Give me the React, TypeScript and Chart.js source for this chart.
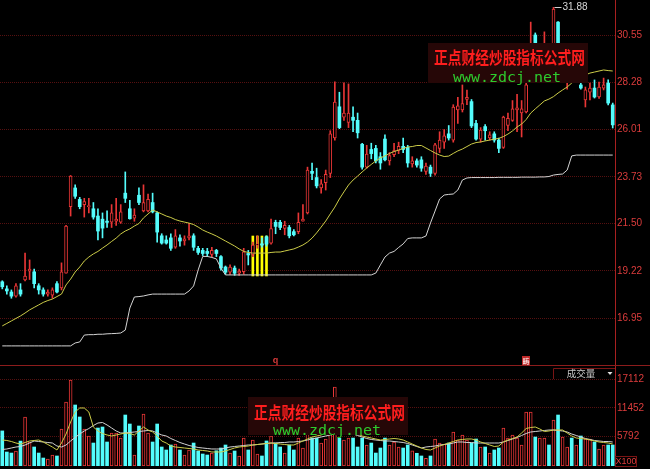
import React, { useEffect, useRef } from 'react';
import { Chart, registerables } from 'chart.js';

Chart.register(...registerables);

// ---------------- data ----------------
const openP = [
  18.69, 18.35, 18.2, 18.0, 18.3, 18.78, 19.2, 19.17, 18.5, 18.3,
  18.1, 18.05, 18.6, 18.4, 19.1, 22.3, 23.2, 22.65, 22.4, 22.3,
  22.2, 21.85, 21.7, 21.6, 21.55, 21.6, 21.55, 22.95, 22.2, 21.75,
  22.85, 22.1, 22.1, 22.5, 22.0, 20.9, 20.7, 20.8, 20.35, 20.8,
  20.65, 20.8, 20.9, 20.3, 20.2, 20.15, 20.0, 20.2, 19.9, 19.4,
  19.15, 19.35, 19.1, 19.18, 20.05, 20.0, 20.45, 20.5, 20.85, 20.55,
  21.55, 21.55, 21.25, 21.3, 21.1, 21.1, 21.6, 22.0, 24.0, 23.7,
  23.2, 23.45, 23.9, 25.6, 27.1, 26.6, 26.35, 26.6, 26.45, 25.3,
  24.2, 25.05, 25.1, 24.7, 25.55, 24.5, 24.8, 25.0, 25.2, 25.15,
  24.35, 24.5, 24.55, 24.0, 24.2, 23.9, 25.1, 25.4, 25.8, 25.5,
  26.95, 26.95, 27.45, 27.35, 26.3, 25.55, 26.15, 25.6, 25.8, 25.5,
  25.15, 26.2, 26.45, 26.95, 26.8, 26.85, 28.9, 30.55, 29.6, 29.5,
  29.9, 29.4, 31.17, 29.2, 28.35, 28.8, 28.5, 28.15, 27.43, 27.8,
  28.0, 27.57, 28.0, 28.24, 27.19,
];
const highP = [
  18.74, 18.5, 18.3, 18.6, 18.6, 20.07, 19.74, 19.3, 18.6, 18.4,
  18.3, 18.4, 18.7, 19.6, 21.4, 23.8, 23.35, 22.75, 22.7, 22.7,
  22.5, 22.2, 22.0, 22.1, 22.4, 22.7, 22.4, 23.97, 22.6, 22.2,
  23.2, 23.35, 22.9, 22.95, 22.05, 21.0, 20.9, 21.0, 21.2, 20.95,
  20.9, 21.5, 21.0, 20.4, 20.3, 20.3, 20.35, 20.25, 19.95, 19.45,
  19.5, 19.45, 19.3, 20.3, 20.2, 20.6, 20.9, 20.8, 20.9, 21.7,
  21.65, 21.65, 21.6, 21.4, 21.2, 22.0, 22.4, 24.2, 24.4, 24.15,
  23.6, 24.06, 25.95, 28.3, 27.8, 28.25, 28.2, 27.1, 26.8, 25.35,
  25.25, 25.35, 25.25, 24.9, 25.75, 24.9, 25.35, 25.4, 25.6, 25.25,
  24.7, 24.6, 24.7, 24.4, 24.3, 25.35, 25.9, 26.0, 26.2, 27.2,
  27.55, 28.15, 27.9, 27.45, 26.45, 26.1, 26.25, 25.9, 25.9, 25.6,
  26.65, 26.8, 27.4, 27.7, 27.4, 28.4, 31.17, 30.65, 30.1, 30.7,
  30.1, 31.88, 31.2, 29.9, 29.3, 29.0, 28.9, 28.3, 28.05, 28.24,
  28.39, 28.29, 28.48, 28.39, 27.28,
];
const lowP = [
  18.35, 18.1, 17.9, 17.95, 18.0, 18.73, 18.8, 18.4, 18.1, 18.0,
  18.0, 17.9, 18.15, 18.3, 19.1, 21.85, 22.7, 22.2, 21.8, 22.0,
  21.7, 20.7, 20.8, 21.3, 21.3, 21.4, 21.5, 22.5, 21.7, 21.6,
  22.4, 22.05, 22.05, 22.0, 20.6, 20.5, 20.5, 20.2, 20.3, 20.4,
  20.45, 20.7, 20.2, 20.0, 19.95, 19.9, 19.9, 19.9, 19.25, 19.05,
  19.05, 19.0, 19.0, 19.05, 19.5, 19.9, 20.3, 20.35, 20.4, 20.5,
  21.0, 21.2, 20.95, 20.8, 20.9, 21.0, 21.6, 21.95, 23.6, 23.2,
  22.95, 23.1, 23.7, 25.5, 26.05, 26.45, 26.1, 25.9, 25.6, 24.1,
  24.15, 24.6, 24.4, 24.1, 24.5, 24.3, 24.7, 24.85, 24.9, 24.2,
  24.2, 24.2, 24.0, 23.85, 23.75, 23.82, 24.9, 25.1, 25.5, 25.4,
  26.3, 26.85, 27.2, 26.1, 25.5, 25.4, 25.5, 25.5, 25.4, 24.9,
  25.1, 25.95, 26.4, 25.9, 25.65, 26.8, 28.7, 29.3, 29.3, 29.2,
  29.2, 29.2, 29.3, 28.8, 27.95, 28.35, 28.35, 27.95, 27.09, 27.43,
  27.52, 27.5, 27.91, 27.19, 26.08,
];
const closeP = [
  18.45, 18.25, 18.0, 18.5, 18.1, 18.97, 19.3, 18.6, 18.3, 18.1,
  18.2, 18.3, 18.2, 19.17, 21.37, 23.77, 22.8, 22.3, 22.55, 22.35,
  21.8, 21.13, 21.27, 21.55, 22.0, 21.7, 22.05, 22.7, 21.72, 21.9,
  22.5, 22.5, 22.65, 22.05, 21.08, 20.55, 20.55, 20.3, 20.9, 20.65,
  20.75, 20.9, 20.35, 20.1, 20.05, 20.05, 20.2, 20.05, 19.35, 19.15,
  19.4, 19.1, 19.2, 20.13, 19.98, 20.45, 20.5, 20.47, 20.5, 21.25,
  21.35, 21.3, 21.4, 20.9, 20.95, 21.55, 21.7, 24.06, 23.9, 23.3,
  23.4, 23.85, 25.8, 27.33, 26.1, 26.8, 26.8, 26.45, 25.85, 24.2,
  24.83, 24.85, 24.5, 24.4, 24.55, 24.75, 25.0, 25.2, 25.05, 24.4,
  24.5, 24.3, 24.15, 24.25, 23.9, 25.27, 25.5, 25.7, 25.6, 27.09,
  27.15, 27.25, 27.55, 26.18, 25.55, 25.98, 25.95, 25.75, 25.5, 25.1,
  26.6, 26.55, 27.0, 27.05, 27.0, 28.15, 29.8, 29.6, 29.9, 29.9,
  29.5, 31.8, 29.5, 29.4, 28.8, 28.45, 28.7, 28.0, 27.91, 28.0,
  27.57, 28.05, 28.15, 27.28, 26.23,
];
const volume = [
  6900, 2750, 2550, 2950, 4900, 9640, 4700, 3740, 2550, 1570,
  1380, 2160, 1970, 7280, 12590, 16920, 12000, 9640, 7280, 5900,
  4520, 7470, 7670, 4720, 6490, 6490, 5500, 10030, 8260, 2160,
  7870, 10230, 6490, 4720, 8260, 3740, 3150, 4130, 4330, 3150,
  2160, 3150, 4520, 2950, 2360, 2160, 2550, 3000, 3540, 4130,
  2550, 2950, 1970, 5500, 3150, 5110, 2360, 1970, 4920, 5900,
  4520, 3740, 2550, 4130, 3150, 5500, 3540, 8500, 5500, 5500,
  4520, 5300, 10000, 15540, 5500, 5110, 5500, 5500, 3740, 5500,
  4130, 4520, 2550, 3540, 5500, 4130, 4720, 3740, 3540, 4130,
  3000, 2500, 1970, 1500, 1970, 5310, 4520, 4330, 4520, 6690,
  5110, 6100, 5110, 4520, 5310, 3740, 3740, 2560, 3150, 3540,
  7470, 5500, 6100, 5500, 4130, 10620, 10620, 5700, 5500, 5500,
  4130, 9050, 10030, 5700, 3740, 5500, 4130, 5900, 5310, 5310,
  4720, 3340, 4130, 4130, 4130,
];
const maLine = [
  16.57, 16.69, 16.81, 16.93, 17.05, 17.19, 17.34, 17.46, 17.58, 17.70,
  17.79, 17.86, 17.98, 18.10, 18.54, 18.82, 19.16, 19.40, 19.69, 19.88,
  20.03, 20.15, 20.31, 20.46, 20.63, 20.79, 20.99, 21.13, 21.23, 21.37,
  21.49, 21.76, 21.95, 22.14, 22.05, 21.95, 21.85, 21.78, 21.68, 21.61,
  21.56, 21.51, 21.44, 21.32, 21.18, 21.08, 20.99, 20.89, 20.77, 20.65,
  20.53, 20.41, 20.27, 20.15, 20.10, 20.07, 20.07, 20.07, 20.07, 20.10,
  20.12, 20.12, 20.17, 20.22, 20.27, 20.36, 20.46, 20.60, 20.79, 21.04,
  21.32, 21.61, 21.95, 22.28, 22.67, 23.01, 23.34, 23.58, 23.77, 23.97,
  24.16, 24.33, 24.50, 24.64, 24.74, 24.86, 24.95, 25.02, 25.10, 25.17,
  25.19, 25.24, 25.24, 25.12, 25.00, 24.88, 24.78, 24.71, 24.73, 24.86,
  24.98, 25.07, 25.19, 25.31, 25.38, 25.41, 25.46, 25.50, 25.55, 25.58,
  25.67, 25.79, 25.94, 26.13, 26.27, 26.49, 26.80, 27.00, 27.19, 27.38,
  27.47, 27.59, 27.76, 27.91, 28.05, 28.24, 28.39, 28.53, 28.63, 28.72,
  28.77, 28.82, 28.87, 28.84, 28.82,
];
const stopLine = [
  15.61, 15.61, 15.61, 15.61, 15.61, 15.61, 15.61, 15.61, 15.61, 15.61,
  15.61, 15.61, 15.61, 15.61, 15.61, 15.61, 15.75, 15.80, 16.13, 16.15,
  16.15, 16.17, 16.17, 16.19, 16.20, 16.21, 16.23, 16.37, 17.43, 17.96,
  17.98, 18.01, 18.06, 18.10, 18.10, 18.10, 18.10, 18.10, 18.10, 18.10,
  18.10, 18.25, 18.49, 19.26, 19.91, 19.91, 19.86, 19.79, 19.35, 19.02,
  19.02, 19.02, 19.02, 19.02, 19.02, 19.02, 19.02, 19.02, 19.02, 19.02,
  19.02, 19.02, 19.02, 19.02, 19.02, 19.02, 19.02, 19.02, 19.02, 19.02,
  19.02, 19.02, 19.02, 19.02, 19.02, 19.02, 19.02, 19.02, 19.02, 19.02,
  19.02, 19.02, 19.11, 19.50, 19.88, 20.07, 20.15, 20.34, 20.51, 20.77,
  20.80, 20.80, 20.80, 20.89, 21.52, 22.09, 22.67, 22.86, 22.89, 22.91,
  23.10, 23.58, 23.68, 23.70, 23.70, 23.70, 23.70, 23.70, 23.70, 23.71,
  23.71, 23.71, 23.71, 23.71, 23.72, 23.72, 23.72, 23.72, 23.73, 23.73,
  23.75, 23.82, 23.85, 23.87, 24.06, 24.74, 24.78, 24.78, 24.78, 24.78,
  24.78, 24.78, 24.78, 24.78, 24.78,
];
const volMa5 = [
  5114, 5016, 4819, 4524, 4327, 4622, 4918, 5016, 5114, 4721,
  4229, 3737, 3147, 4524, 6294, 8655, 10622, 11409, 11409, 10622,
  7671, 6885, 6393, 6098, 5901, 6098, 6294, 6491, 6393, 6098,
  6885, 7671, 7081, 6688, 5901, 4918, 4524, 3934, 3737, 3639,
  3541, 3442, 3344, 3147, 3049, 2951, 2754, 2754, 2754, 2951,
  3246, 3541, 3737, 3836, 3934, 4131, 4229, 4327, 4426, 4524,
  4426, 4327, 4229, 4131, 4131, 4524, 4918, 5311, 5704, 5901,
  6098, 6491, 7081, 7868, 8261, 8065, 7475, 6688, 6294, 5901,
  5704, 5508, 5311, 5114, 5213, 5311, 5409, 5311, 5114, 4721,
  4327, 3934, 3541, 3246, 3147, 3541, 3934, 4229, 4524, 4819,
  5114, 5213, 5311, 5311, 5114, 4721, 4426, 4131, 3836, 3934,
  4721, 5114, 5409, 5704, 6491, 7376, 7573, 7671, 7278, 6786,
  6885, 7081, 7081, 7081, 6491, 5901, 5508, 5409, 5311, 5114,
  4918, 4721, 4622, 4524, 4327,
];
const volMa10 = [
  3246, 3344, 3541, 3737, 3836, 4131, 4524, 4918, 4819, 4721,
  4622, 4524, 3934, 3737, 4131, 4918, 5606, 6294, 6885, 7376,
  7966, 8458, 8556, 8065, 7475, 6885, 6491, 6491, 6590, 6688,
  6786, 6885, 6983, 6885, 6491, 6098, 5901, 5409, 5016, 4622,
  4327, 4032, 3836, 3639, 3541, 3442, 3344, 3344, 3344, 3541,
  3737, 3836, 3934, 4032, 4131, 4131, 4229, 4327, 4426, 4524,
  4524, 4622, 4622, 4721, 4721, 4819, 4918, 5114, 5311, 5508,
  5704, 5901, 6098, 6294, 6491, 6590, 6491, 6294, 5999, 5704,
  5409, 5213, 5114, 5016, 4918, 4918, 4819, 4721, 4622, 4426,
  4131, 3836, 3541, 3737, 3836, 3934, 4131, 4229, 4327, 4524,
  4721, 4721, 4622, 4622, 4524, 4524, 4524, 4524, 4524, 4524,
  4721, 5016, 5311, 5606, 5999, 6393, 6688, 6786, 6885, 6983,
  7081, 7081, 6983, 6885, 6688, 6294, 5999, 5704, 5409, 5213,
  5016, 4918, 4819, 4819, 4721,
];
const signalIdx = [55, 56, 57, 58];
const signalLow = [18.97, 18.97, 18.97, 18.97];
const signalHigh = [20.89, 20.89, 20.89, 20.89];

const priceTicks = [30.55, 28.28, 26.01, 23.73, 21.5, 19.22, 16.95];
const volTicks = [17112, 11452, 5792];
const categories = openP.map((_, i) => String(i + 1));

const WM_CN = '正点财经炒股指标公式网';
const WM_URL = 'www.zdcj.net';
const VOL_TITLE = '成交量';
const VOL_UNIT = 'X100';
const MARK_Q = 'q';
const MARK_ICON = '畴';

// ---------------- styles ----------------
const RED = '#e83636';
const CYAN = '#54fcfc';
const GRID = '#561010';
const AXIS = '#a82020';
const LABEL = '#dc3c3c';
const SEP = '#8c1c1c';

const isUp = openP.map((o, i) => closeP[i] >= o);

function bodyRange(o: number, c: number, minSpan: number): [number, number] {
  const lo = Math.min(o, c);
  const hi = Math.max(o, c);
  if (hi - lo >= minSpan) return [lo, hi];
  const m = (lo + hi) / 2;
  return [m - minSpan / 2, m + minSpan / 2];
}

function drawWatermark(ctx: any, x: number, y: number, w: number, h: number, cnY: number, urlY: number) {
  ctx.save();
  ctx.fillStyle = '#260707';
  ctx.fillRect(x, y, w, h);
  ctx.font = 'bold 17px "Noto Sans CJK SC"';
  ctx.textBaseline = 'middle';
  ctx.textAlign = 'left';
  const tw = ctx.measureText(WM_CN).width;
  ctx.save();
  ctx.translate(x + 6, y + cnY);
  ctx.scale(151 / tw, 1);
  ctx.fillStyle = '#ff1e1e';
  ctx.fillText(WM_CN, 0, 0);
  ctx.restore();
  ctx.font = '14px "DejaVu Sans Mono"';
  ctx.textBaseline = 'alphabetic';
  const uw = ctx.measureText(WM_URL).width;
  ctx.save();
  ctx.translate(x + 25, y + urlY);
  ctx.scale(108 / uw, 1);
  ctx.fillStyle = '#2ecc2e';
  ctx.fillText(WM_URL, 0, 0);
  ctx.restore();
  ctx.restore();
}

const mainOverlay = {
  id: 'mainOverlay',
  afterDraw(chart: any) {
    const { ctx, scales } = chart;
    const xs = scales.x;
    const ys = scales.y;
    ctx.save();
    let peakIdx = 0;
    highP.forEach((h, i) => { if (h > highP[peakIdx]) peakIdx = i; });
    const px = xs.getPixelForValue(peakIdx);
    const py = Math.round(ys.getPixelForValue(highP[peakIdx])) + 0.5;
    ctx.strokeStyle = '#d0d0d0';
    ctx.lineWidth = 1;
    ctx.beginPath();
    ctx.moveTo(px + 1, py);
    ctx.lineTo(px + 8, py);
    ctx.stroke();
    ctx.fillStyle = '#d8d8d8';
    ctx.font = '10px "Liberation Sans"';
    ctx.textBaseline = 'middle';
    ctx.textAlign = 'left';
    ctx.fillText(highP[peakIdx].toFixed(2), px + 9, py);
    const qx = xs.getPixelForValue(60);
    ctx.fillStyle = '#d83a3a';
    ctx.font = 'bold 9px "Liberation Sans"';
    ctx.textAlign = 'center';
    ctx.fillText(MARK_Q, qx, 361);
    const ix = xs.getPixelForValue(115);
    ctx.fillStyle = '#c02828';
    ctx.fillRect(Math.round(ix) - 4, 356, 8, 10);
    ctx.fillStyle = '#ffffff';
    ctx.font = '7px "Noto Sans CJK SC"';
    ctx.fillText(MARK_ICON, Math.round(ix), 361);
    ctx.strokeStyle = SEP;
    ctx.beginPath();
    ctx.moveTo(0, 365.5);
    ctx.lineTo(650, 365.5);
    ctx.stroke();
    ctx.restore();
    drawWatermark(ctx, 428, 43, 160, 40, 15, 38.5);
  },
};

const volOverlay = {
  id: 'volOverlay',
  afterDraw(chart: any) {
    const { ctx } = chart;
    drawWatermark(ctx, 248, 31, 160, 38, 16, 37.5);
    ctx.save();
    ctx.fillStyle = '#000';
    ctx.fillRect(553, 2, 62, 11);
    ctx.strokeStyle = '#7a1414';
    ctx.lineWidth = 1;
    ctx.beginPath();
    ctx.moveTo(553.5, 13);
    ctx.lineTo(553.5, 2.5);
    ctx.lineTo(615, 2.5);
    ctx.stroke();
    ctx.fillStyle = '#c8c8c8';
    ctx.font = '9.5px "Noto Sans CJK SC"';
    ctx.textAlign = 'center';
    ctx.textBaseline = 'middle';
    ctx.fillText(VOL_TITLE, 581, 7.5);
    ctx.fillStyle = '#e0e0e0';
    ctx.beginPath();
    ctx.moveTo(607.5, 6);
    ctx.lineTo(612.5, 6);
    ctx.lineTo(610, 9);
    ctx.closePath();
    ctx.fill();
    ctx.strokeStyle = '#7a1414';
    ctx.strokeRect(615.5, 90.5, 21, 10);
    ctx.fillStyle = LABEL;
    ctx.font = '9px "Liberation Sans"';
    ctx.fillText(VOL_UNIT, 626, 96);
    ctx.restore();
  },
};

function yAxisBase(min: number, max: number, ticks: number[], fmt: (v: number) => string) {
  return {
    position: 'right',
    min,
    max,
    afterBuildTicks: (s: any) => { s.ticks = ticks.map((v) => ({ value: v })); },
    afterFit: (s: any) => { s.width = 35; s.paddingTop = 0; s.paddingBottom = 0; },
    ticks: {
      color: LABEL,
      font: { family: 'Liberation Sans', size: 10 },
      padding: 2,
      autoSkip: false,
      callback: (v: any) => fmt(Number(v)),
    },
    grid: { color: GRID, drawTicks: false, lineWidth: 1 },
    border: { display: true, color: AXIS, width: 1, dash: [1, 1] },
  };
}

function mainConfig(): any {
  const signalData = categories.map((_, i) => {
    const k = signalIdx.indexOf(i);
    return k >= 0 ? [signalLow[k], signalHigh[k]] : null;
  });
  return {
    type: 'bar',
    data: {
      labels: categories,
      datasets: [
        { type: 'line', label: 'stop', data: stopLine, borderColor: '#d4d4d4', borderWidth: 1, pointRadius: 0, order: 0 },
        { type: 'line', label: 'MA', data: maLine, borderColor: '#cccc48', borderWidth: 1, pointRadius: 0, order: 1 },
        {
          type: 'bar', label: 'body',
          data: openP.map((o, i) => bodyRange(o, closeP[i], 0.06)),
          backgroundColor: isUp.map((u) => (u ? '#000000' : CYAN)),
          borderColor: isUp.map((u) => (u ? RED : CYAN)),
          borderWidth: isUp.map((u) => (u ? 1 : 0)),
          borderSkipped: false, barThickness: 3, grouped: false, order: 2,
        },
        {
          type: 'bar', label: 'wick',
          data: lowP.map((l, i) => [l, highP[i]]),
          backgroundColor: isUp.map((u) => (u ? RED : CYAN)),
          borderWidth: 0, barThickness: 1, grouped: false, order: 3,
        },
        { type: 'bar', label: 'signal', data: signalData, backgroundColor: '#ffff00', borderWidth: 0, barThickness: 2, grouped: false, order: 4 },
      ],
    },
    options: {
      responsive: false,
      animation: false,
      devicePixelRatio: 1,
      layout: { padding: { left: 0, right: 0, top: 0, bottom: 1 } },
      plugins: { legend: { display: false }, tooltip: { enabled: false } },
      scales: {
        x: { type: 'category', display: false, offset: true, grid: { display: false } },
        y: yAxisBase(14.692, 32.232, priceTicks, (v) => v.toFixed(2)),
      },
    },
    plugins: [mainOverlay],
  };
}

function volConfig(): any {
  return {
    type: 'bar',
    data: {
      labels: categories,
      datasets: [
        { type: 'line', label: 'MA5', data: volMa5, borderColor: '#cccc48', borderWidth: 1, pointRadius: 0, order: 0 },
        { type: 'line', label: 'MA10', data: volMa10, borderColor: '#d0d0d0', borderWidth: 1, pointRadius: 0, order: 1 },
        {
          type: 'bar', label: 'vol', data: volume,
          backgroundColor: isUp.map((u) => (u ? '#000000' : CYAN)),
          borderColor: isUp.map((u) => (u ? RED : CYAN)),
          borderWidth: isUp.map((u) => (u ? 1 : 0)),
          borderSkipped: false, barThickness: 3, grouped: false, order: 2,
        },
      ],
    },
    options: {
      responsive: false,
      animation: false,
      devicePixelRatio: 1,
      layout: { padding: { left: 0, right: 0, top: 0, bottom: 3 } },
      plugins: { legend: { display: false }, tooltip: { enabled: false } },
      scales: {
        x: { type: 'category', display: false, offset: true, grid: { display: false } },
        y: yAxisBase(0, 19670, volTicks, (v) => String(Math.round(v))),
      },
    },
    plugins: [volOverlay],
  };
}

export default function App() {
  const mainRef = useRef<HTMLCanvasElement>(null);
  const volRef = useRef<HTMLCanvasElement>(null);
  useEffect(() => {
    document.body.style.margin = '0';
    document.body.style.background = '#000';
    const c1 = new Chart(mainRef.current as HTMLCanvasElement, mainConfig());
    const c2 = new Chart(volRef.current as HTMLCanvasElement, volConfig());
    return () => { c1.destroy(); c2.destroy(); };
  }, []);
  return (
    <div style={{ width: 650, height: 469, background: '#000', overflow: 'hidden' }}>
      <canvas ref={mainRef} width={650} height={366} style={{ display: 'block' }} />
      <canvas ref={volRef} width={650} height={103} style={{ display: 'block' }} />
    </div>
  );
}
